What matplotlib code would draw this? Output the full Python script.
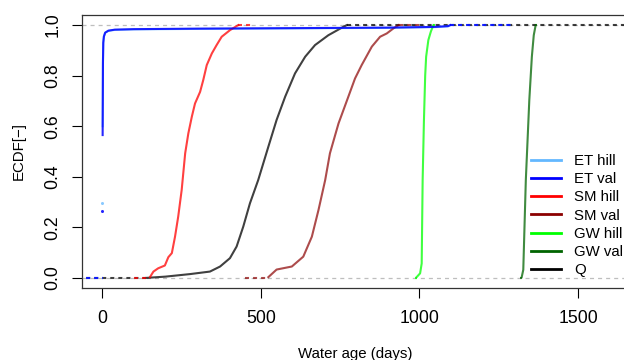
import numpy as np
import matplotlib
matplotlib.use("Agg")
import matplotlib.pyplot as plt

plt.rcParams['font.family'] = ['Liberation Sans', 'DejaVu Sans']
plt.rcParams['lines.scale_dashes'] = False

# ECDF knots (x = water age in days, y = ECDF)
et_hill_x = [0, 2, 2.5, 3, 4, 6, 10, 20, 40, 100, 300, 600, 900, 1050, 1090, 1097]
et_hill_y = [0.295, 0.60, 0.72, 0.86, 0.93, 0.955, 0.97, 0.977, 0.981, 0.983, 0.985, 0.987, 0.989, 0.992, 0.995, 1.0]
et_val_x = [0, 2, 2.5, 3, 4, 6, 10, 20, 40, 100, 300, 600, 900, 1050, 1090, 1097]
et_val_y = [0.266, 0.565, 0.70, 0.85, 0.93, 0.955, 0.97, 0.978, 0.982, 0.984, 0.986, 0.988, 0.99, 0.993, 0.996, 1.0]
sm_hill_x = [151, 162, 177, 198, 209, 220, 230, 240, 251, 262, 272, 283, 293, 309, 319, 330, 346, 361, 377, 403, 429]
sm_hill_y = [0.003, 0.025, 0.038, 0.049, 0.082, 0.098, 0.163, 0.242, 0.348, 0.493, 0.572, 0.638, 0.69, 0.736, 0.783, 0.842, 0.888, 0.921, 0.954, 0.980, 1.0]
sm_val_x = [524, 550, 598, 634, 661, 682, 703, 718, 745, 776, 797, 818, 850, 876, 897, 918, 934]
sm_val_y = [0.003, 0.033, 0.045, 0.084, 0.163, 0.269, 0.387, 0.493, 0.611, 0.717, 0.789, 0.842, 0.915, 0.954, 0.967, 0.987, 1.0]
gw_hill_x = [991, 1002, 1007, 1010, 1014, 1018, 1021, 1028, 1036, 1044]
gw_hill_y = [0.003, 0.018, 0.057, 0.387, 0.62, 0.80, 0.875, 0.941, 0.975, 1.0]
gw_val_x = [1322, 1327, 1335, 1346, 1354, 1360, 1366]
gw_val_y = [0.003, 0.032, 0.387, 0.704, 0.875, 0.96, 1.0]
q_x = [140, 200, 277, 340, 372, 403, 424, 445, 466, 492, 524, 550, 577, 608, 640, 671, 713, 760, 771]
q_y = [0.0, 0.005, 0.015, 0.025, 0.045, 0.078, 0.124, 0.203, 0.295, 0.387, 0.519, 0.625, 0.717, 0.809, 0.875, 0.921, 0.960, 0.993, 1.0]

# range of the ECDF step extensions (y=0 on the left, y=1 on the right)
et_range = (-100, 1290)
sm_hill_range = (100, 475)
sm_val_range = (450, 1005)
gw_hill_range = (986, 1049)
gw_val_range = (1317, 1371)
q_range = (-100, 2000)

labels = ["ET hill", "ET val", "SM hill", "SM val", "GW hill", "GW val", "Q"]
colors = ["#63B8FF", "#0000FF", "#FF0000", "#8B0000", "#00FF00", "#006400", "#000000"]

DASH = (2.9, 2.9)


def draw_ecdf(ax, x, y, rng, color, alpha=0.75, lw=1.5, z=3):
    x = np.asarray(x, float)
    y = np.asarray(y, float)
    # isolated first knot (no verticals drawn, like R's plot.ecdf)
    if y[1] - y[0] > 0.1:
        ax.plot([x[0]], [y[0]], marker="o", ms=2.2, mew=0, color=color, alpha=alpha, zorder=z)
        x, y = x[1:], y[1:]
    ax.plot(x, y, color=color, alpha=alpha, lw=lw, zorder=z)
    ax.plot([rng[0], x[0]], [0, 0], color=color, alpha=alpha, lw=lw, zorder=z,
            linestyle=(0, DASH))
    ax.plot([x[-1], rng[1]], [1, 1], color=color, alpha=alpha, lw=lw, zorder=z,
            linestyle=(0, DASH))


fig = plt.figure(figsize=(6.24, 3.6), dpi=100)
# plot region runs a little past the right edge of the picture
ax = fig.add_axes([82 / 624, 72 / 360, 547 / 624, 273 / 360])

ax.set_xlim(-63, 1660)
ax.set_ylim(-0.04, 1.04)

for yy in (0, 1):
    ax.axhline(yy, color="#BEBEBE", lw=0.9, linestyle=(0, DASH), zorder=1)

draw_ecdf(ax, q_x, q_y, q_range, colors[6], z=2)
draw_ecdf(ax, et_hill_x, et_hill_y, et_range, colors[0], z=3)
draw_ecdf(ax, et_val_x, et_val_y, et_range, colors[1], alpha=0.85, z=4)
draw_ecdf(ax, sm_hill_x, sm_hill_y, sm_hill_range, colors[2], z=3)
draw_ecdf(ax, sm_val_x, sm_val_y, sm_val_range, colors[3], alpha=0.7, z=3)
draw_ecdf(ax, gw_hill_x, gw_hill_y, gw_hill_range, colors[4], z=3)
draw_ecdf(ax, gw_val_x, gw_val_y, gw_val_range, colors[5], z=3)

ax.set_xticks([0, 500, 1000, 1500])
ax.set_yticks([0.0, 0.2, 0.4, 0.6, 0.8, 1.0])
ax.set_yticklabels(["0.0", "0.2", "0.4", "0.6", "0.8", "1.0"], rotation=90, va="center")
ax.tick_params(axis="both", direction="out", length=7, width=0.8, labelsize=12.7, color="black")
ax.tick_params(axis="x", pad=9)
ax.tick_params(axis="y", pad=8)
for s in ax.spines.values():
    s.set_linewidth(0.9)
    s.set_color("#333333")

ax.set_xlabel("Water age (days)", fontsize=10.8, labelpad=14)
ax.set_ylabel("ECDF[−]", fontsize=10.8, labelpad=13)

handles = [plt.Line2D([], [], color=c, lw=2) for c in colors]
leg = fig.legend(handles, labels, loc="upper left", bbox_to_anchor=(531 / 624, 1 - 154 / 360),
                 frameon=False, fontsize=10.8, handlelength=2.0, handletextpad=0.9,
                 labelspacing=0.28, borderpad=0, borderaxespad=0)

fig.savefig("out.png", dpi=100)
